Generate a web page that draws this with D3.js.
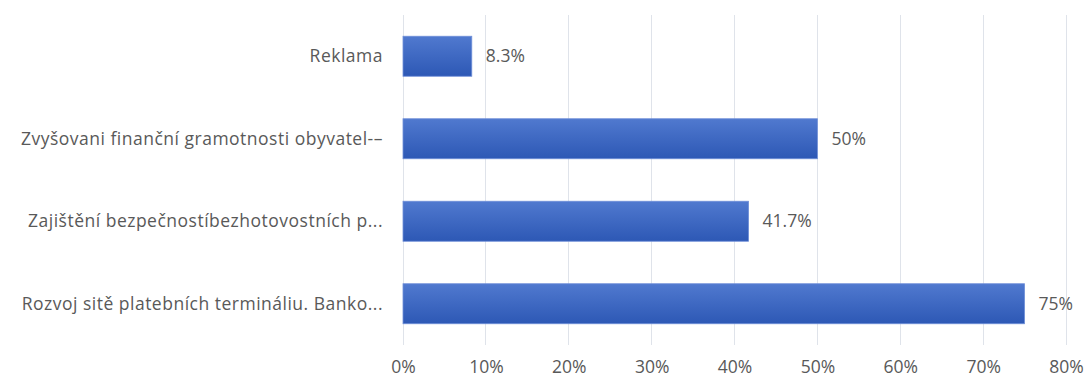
<!DOCTYPE html>
<html>
<head>
<meta charset="utf-8">
<script src="https://cdn.jsdelivr.net/npm/d3@7"></script>
<style>
body { margin: 0; background: #fff; }
text { font-family: "Open Sans", "Noto Sans", sans-serif; fill: #595959; }
</style>
</head>
<body>
<div id="chart"></div>
<script>
// data
var categories = [
	"Reklama",
	"Zvyšovani finanční gramotnosti obyvatel-\u2013",
	"Zajištění bezpečnostíbezhotovostních p...",
	"Rozvoj sitě platebních termináliu. Banko..."
];
var values = [8.3, 50, 41.7, 75];
var valueLabels = ["8.3%", "50%", "41.7%", "75%"];
var tickValues = [0, 10, 20, 30, 40, 50, 60, 70, 80];

var width = 1084, height = 379;
var margin = {top: 15, right: 18, bottom: 34, left: 403};
var fontSize = 17.5;

var svg = d3.select("#chart").append("svg")
	.attr("width", width)
	.attr("height", height);

var defs = svg.append("defs");
var grad = defs.append("linearGradient")
	.attr("id", "barGrad")
	.attr("x1", 0).attr("y1", 0).attr("x2", 0).attr("y2", 1);
grad.append("stop").attr("offset", "0%").attr("stop-color", "#5079cf");
grad.append("stop").attr("offset", "100%").attr("stop-color", "#2d58b5");

var x = d3.scaleLinear()
	.domain([0, 80])
	.range([margin.left, width - margin.right]);

var y = d3.scaleBand()
	.domain(categories)
	.range([margin.top, height - margin.bottom])
	.paddingInner(0.515)
	.paddingOuter(0.2575);

// gridlines
svg.append("g")
	.selectAll("line")
	.data(tickValues)
	.enter()
	.append("line")
	.attr("x1", function(d) { return x(d); })
	.attr("x2", function(d) { return x(d); })
	.attr("y1", margin.top)
	.attr("y2", height - margin.bottom)
	.attr("stroke", "#dfe3ea")
	.attr("stroke-width", 1)
	.attr("shape-rendering", "crispEdges");

// bars
svg.append("g")
	.selectAll("rect")
	.data(values)
	.enter()
	.append("rect")
	.attr("x", x(0))
	.attr("y", function(d, i) { return y(categories[i]); })
	.attr("width", function(d) { return x(d) - x(0); })
	.attr("height", y.bandwidth())
	.attr("fill", "url(#barGrad)")
	.attr("stroke", "#6f8fd8")
	.attr("stroke-width", 0.8);

// value labels
svg.append("g")
	.selectAll("text")
	.data(values)
	.enter()
	.append("text")
	.attr("x", function(d) { return x(d) + 14; })
	.attr("y", function(d, i) { return y(categories[i]) + y.bandwidth() / 2; })
	.attr("dy", "0.35em")
	.attr("font-size", fontSize)
	.text(function(d, i) { return valueLabels[i]; });

// category labels
svg.append("g")
	.selectAll("text")
	.data(categories)
	.enter()
	.append("text")
	.attr("x", margin.left - 20)
	.attr("y", function(d) { return y(d) + y.bandwidth() / 2; })
	.attr("dy", "0.35em")
	.attr("text-anchor", "end")
	.attr("font-size", fontSize)
	.attr("letter-spacing", 0.5)
	.text(function(d) { return d; });

// x axis labels
var xAxis = svg.append("g")
	.attr("transform", "translate(0," + (height - margin.bottom) + ")")
	.call(d3.axisBottom(x).tickValues(tickValues).tickSize(0).tickPadding(16)
		.tickFormat(function(d) { return d + "%"; }));
xAxis.select(".domain").remove();
xAxis.selectAll("text")
	.attr("font-size", fontSize)
	.attr("font-family", "\"Open Sans\", \"Noto Sans\", sans-serif")
	.attr("fill", "#595959");
</script>
</body>
</html>
